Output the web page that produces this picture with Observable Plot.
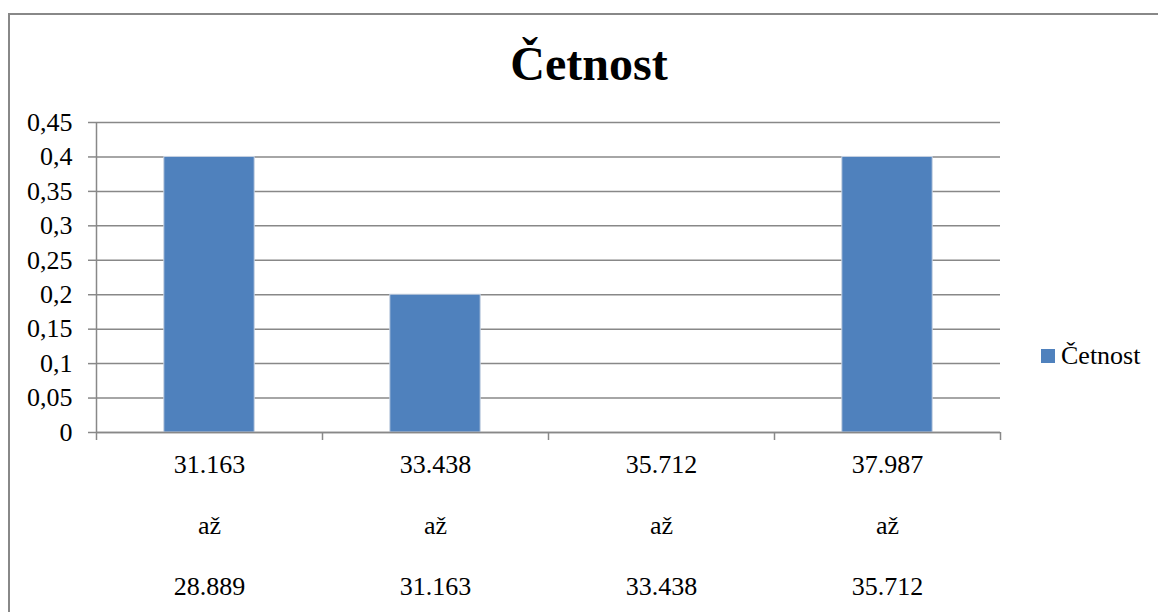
<!DOCTYPE html>
<html>
<head>
<meta charset="utf-8">
<script src="https://cdn.jsdelivr.net/npm/d3@7"></script>
<script src="https://cdn.jsdelivr.net/npm/@observablehq/plot@0.6"></script>
<style>
  html, body { margin: 0; padding: 0; background: #fff; overflow: hidden; }
  #wrap { position: relative; width: 1158px; height: 612px; font-family: 'Liberation Serif'; }
  #border { position: absolute; left: 8px; top: 13px; width: 1200px; height: 700px; border-left: 2px solid #888; border-top: 2px solid #888; box-sizing: border-box; }
  #chart { position: absolute; left: 0; top: 0; }
  #chart svg, #chart svg text { font-family: 'Liberation Serif' !important; }
  #title { position: absolute; left: 0; width: 1178px; top: 40px; text-align: center; font-weight: bold; font-size: 48px; line-height: 48px; color: #000; }
  #legend { position: absolute; left: 1041px; top: 340px; display: flex; align-items: center; font-size: 26px; line-height: 32px; color: #000; }
  #legend .sw { width: 14px; height: 14px; background: #4f81bd; margin-right: 6px; }
</style>
</head>
<body>
<div id="wrap">
  <div id="chart"></div>
  <div id="border"></div>
  <div id="title">Četnost</div>
  <div id="legend"><div class="sw"></div><span>Četnost</span></div>
</div>
<script>
const seriesName = "Četnost";
const categories = ["31.163\naž\n28.889", "33.438\naž\n31.163", "35.712\naž\n33.438", "37.987\naž\n35.712"];
const values = [0.4, 0.2, 0, 0.4];
const yTicks = [0, 0.05, 0.1, 0.15, 0.2, 0.25, 0.3, 0.35, 0.4, 0.45];

const data = categories.map((c, i) => ({i, category: c, value: values[i]}));
const boundaries = d3.range(categories.length + 1);
const centers = categories.map((c, i) => i + 0.5);
const fmt = d => String(+d.toFixed(2)).replace(".", ",");
const serif = "Liberation Serif";

const plot = Plot.plot({
  width: 1158,
  height: 612,
  marginLeft: 96,
  marginRight: 158,
  marginTop: 122,
  marginBottom: 180,
  style: {fontFamily: serif, fontSize: "26px", color: "#000", background: "transparent"},
  x: {type: "linear", domain: [0, categories.length], axis: null},
  y: {domain: [0, 0.45], axis: null},
  marks: [
    Plot.gridY(yTicks, {stroke: "#888", strokeOpacity: 1, strokeWidth: 1.5}),
    Plot.rectY(data, {x1: "i", x2: d => d.i + 1, y: "value", fill: "#4f81bd", stroke: "#c8d3e3", strokeWidth: 1, insetLeft: 67.8, insetRight: 67.8}),
    Plot.ruleY([0], {stroke: "#888", strokeWidth: 1.5}),
    Plot.ruleX([0], {stroke: "#888", strokeWidth: 1.5}),
    Plot.axisY({ticks: yTicks, tickFormat: fmt, tickSize: 8, tickPadding: 16, stroke: "#888", strokeWidth: 1.5, fill: "#000", fontSize: 26, fontFamily: serif, label: null}),
    Plot.axisX({ticks: boundaries, tickFormat: () => "", tickSize: 8, stroke: "#888", strokeWidth: 1.5, label: null}),
    Plot.axisX({ticks: centers, tickFormat: d => categories[Math.floor(d)], tickSize: 0, tickPadding: -3, lineHeight: 2.35, fill: "#000", fontSize: 26, fontFamily: serif, label: null})
  ]
});
document.getElementById("chart").appendChild(plot);
</script>
</body>
</html>
